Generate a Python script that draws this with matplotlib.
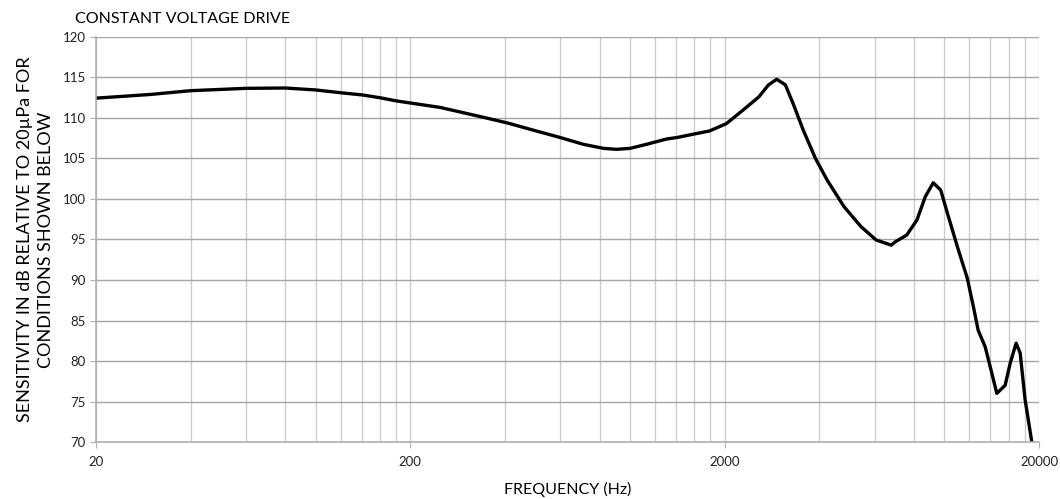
import numpy as np
import matplotlib.pyplot as plt
from matplotlib.ticker import FixedLocator, NullFormatter

plt.rcParams['font.family'] = ['Lato', 'DejaVu Sans']

# curve (Hz, dB)
freq = [20, 29.7, 40, 60, 80, 100, 121, 141, 160, 181, 200, 249, 340, 406,
        492, 598, 710, 823, 906, 1000, 1128, 1306, 1415, 1590, 1790, 2024,
        2292, 2568, 2754, 2928, 3118, 3300, 3556, 3890, 4234, 4794, 5426,
        6064, 6780, 6970, 7590, 8176, 8698, 9216, 9734, 10232, 11020, 11830,
        12368, 12806, 13480, 14154, 14680, 15604, 16186, 16912, 17418, 18066,
        18972]
spl = [112.45, 112.9, 113.37, 113.66, 113.7, 113.46, 113.1, 112.84, 112.5,
       112.1, 111.85, 111.3, 110.1, 109.4, 108.5, 107.6, 106.75, 106.25,
       106.13, 106.25, 106.75, 107.4, 107.6, 108.0, 108.4, 109.3, 111.0,
       112.6, 114.07, 114.78, 114.1, 111.8, 108.5, 105.0, 102.35, 99.05,
       96.6, 94.94, 94.3, 94.7, 95.55, 97.4, 100.3, 102.0, 101.1, 98.2, 94.0,
       90.2, 86.7, 83.8, 81.76, 78.5, 76.0, 77.0, 79.7, 82.2, 81.0, 75.2,
       70.0]

major_x = [20, 200, 2000, 20000]
y_ticks = [70, 75, 80, 85, 90, 95, 100, 105, 110, 115, 120]

fig = plt.figure(figsize=(10.6, 4.99), dpi=100)
ax = fig.add_axes([0.0906, 0.1142, 0.8896, 0.8117])

ax.set_xscale('log')
ax.set_xlim(20, 20000)
ax.set_ylim(70, 120)

minor_x = [m * d for d in (20, 200, 2000) for m in range(2, 10)]
ax.xaxis.set_major_locator(FixedLocator(major_x))
ax.xaxis.set_minor_locator(FixedLocator(minor_x))
ax.xaxis.set_minor_formatter(NullFormatter())
ax.set_xticklabels([str(v) for v in major_x])
ax.set_yticks(y_ticks)

ax.grid(True, which='major', axis='y', color='#a6a6a6', lw=1.0)
ax.grid(True, which='both', axis='x', color='#cccccc', lw=1.0)
ax.set_axisbelow(True)

for s in ('top', 'right'):
    ax.spines[s].set_visible(False)
for s in ('left', 'bottom'):
    ax.spines[s].set_color('#b0b0b0')
    ax.spines[s].set_linewidth(1.2)

ax.tick_params(axis='both', which='major', length=4, color='#b0b0b0',
               labelsize=9.5, labelcolor='#222222')
ax.tick_params(axis='x', which='minor', length=0)
ax.tick_params(axis='x', pad=6)

ax.plot(freq, spl, color='black', lw=2.4, solid_joinstyle='round',
        solid_capstyle='round')

ax.set_xlabel('FREQUENCY (Hz)', fontsize=11.5, labelpad=10)
ax.set_ylabel('SENSITIVITY IN dB RELATIVE TO 20\u00b5Pa FOR\nCONDITIONS SHOWN BELOW',
              fontsize=13, labelpad=6, linespacing=1.4)
fig.text(75 / 1060, 1 - 19 / 499, 'CONSTANT VOLTAGE DRIVE', fontsize=11.5,
         va='center', ha='left')

fig.savefig('out.png', dpi=100)
